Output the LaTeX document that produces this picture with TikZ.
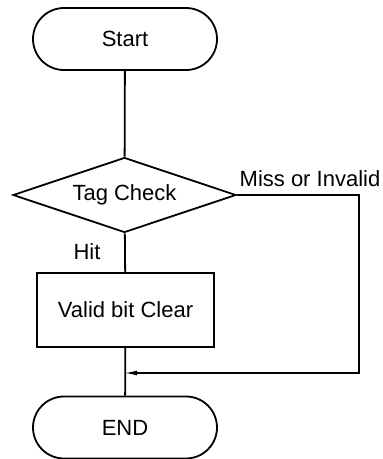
\documentclass[tikz,border=0pt]{standalone}
\usepackage{fontspec}
\setmainfont{Liberation Sans}
\usetikzlibrary{shapes.geometric,shapes.misc,arrows.meta}

\begin{document}
\begin{tikzpicture}[x=1pt,y=-1pt,
  font=\fontsize{22}{26}\selectfont,
  line width=1.8pt,
  term/.style={draw,rounded rectangle,minimum width=184pt,minimum height=62pt,inner sep=0pt},
  test/.style={draw,diamond,aspect=3,minimum width=223pt,minimum height=75pt,inner sep=0pt},
  proc/.style={draw,rectangle,minimum width=177pt,minimum height=74pt,inner sep=0pt}]

\useasboundingbox (0,0) rectangle (383,459);

\node[term]
(S)
at (125,39)
{Start};

\node[test]
(T)
at (124.5,195)
{Tag Check};

\node[proc]
(V)
at (125.5,310)
{Valid bit Clear};

\node[term]
(E)
at (125,427.5)
{END};

\node
(miss)
at (310,179)
{Miss or Invalid};

\node
(hit)
at (87,252)
{Hit};

\coordinate (turn) at (359,195);
\coordinate (join) at (125,373);

\draw (S) -- (T);
\draw (T) -- (V);
\draw (V) -- (E);
\draw[line width=1.3pt,-{Latex[length=12pt,width=5pt]}] (T.east) -- (turn) |- (join);

\end{tikzpicture}
\end{document}
